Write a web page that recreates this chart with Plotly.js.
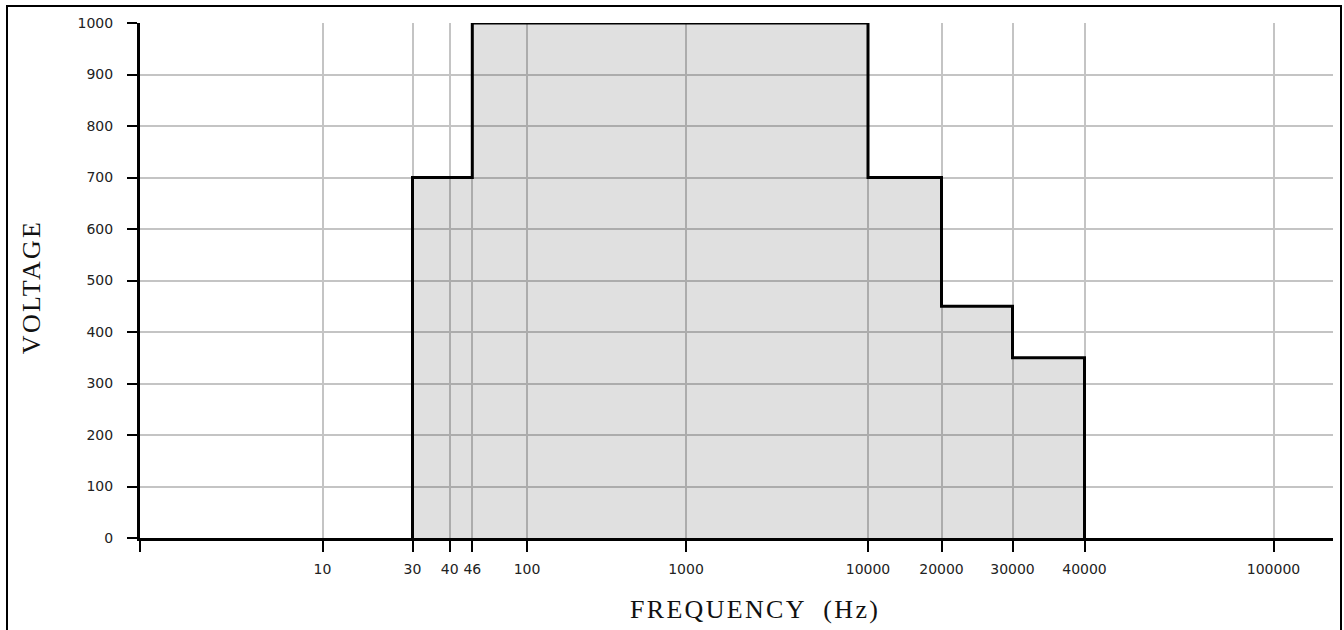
<!DOCTYPE html>
<html>
<head>
<meta charset="utf-8">
<script src="https://cdn.plot.ly/plotly-3.0.1.min.js"></script>
<style>
  html, body { margin: 0; padding: 0; background: #ffffff; }
  #wrap { position: relative; width: 1344px; height: 630px; overflow: hidden; }
  #chart { position: absolute; left: 0; top: 0; width: 1344px; height: 630px; }
  #frame { position: absolute; left: 6px; top: 5px; width: 1336px; height: 700px;
           border: 2px solid #000; box-sizing: border-box; pointer-events: none; }
</style>
</head>
<body>
<div id="wrap">
  <div id="chart"></div>
  <div id="frame"></div>
</div>
<script>
// ---- data ----
const freqHz  = [30, 30, 40, 46, 10000, 20000, 30000, 40000, 40000];
const voltage = [0, 700, 700, 1000, 700, 450, 350, 350, 0];

// x-axis tick frequencies and their labels
const tickFreqs  = [0, 10, 30, 40, 46, 100, 1000, 10000, 20000, 30000, 40000, 100000];
const tickLabels = ['', '10', '30', '40', '46', '100', '1000', '10000', '20000', '30000', '40000', '100000'];

// y-axis ticks
const yTickVals = [0, 100, 200, 300, 400, 500, 600, 700, 800, 900, 1000];

// axis titles
const xTitle = 'FREQUENCY  (Hz)';
const yTitle = 'VOLTAGE';

// ---- the chart's non-uniform frequency scale (anchor positions along the axis) ----
const scaleAnchors = [0, 182.5, 272.5, 309.7, 332.3, 387, 546, 728, 801.5, 872.5, 944.5, 1133.5];
const axisEnd = 1193;

function toAxis(f) {
  for (let i = 0; i < tickFreqs.length - 1; i++) {
    const f0 = tickFreqs[i], f1 = tickFreqs[i + 1];
    if (f >= f0 && f <= f1) {
      return scaleAnchors[i] + (f - f0) / (f1 - f0) * (scaleAnchors[i + 1] - scaleAnchors[i]);
    }
  }
  return scaleAnchors[scaleAnchors.length - 1];
}

const trace = {
  x: freqHz.map(toAxis),
  y: voltage,
  type: 'scatter',
  mode: 'lines',
  line: { shape: 'hv', color: '#000000', width: 3 },
  fill: 'tozeroy',
  fillcolor: 'rgba(0,0,0,0.12)',
  hoverinfo: 'skip',
  showlegend: false
};

const tickFont = { family: 'DejaVu Sans, Verdana, sans-serif', size: 14, color: '#222222' };
const titleFont = { family: 'Liberation Serif, Times New Roman, serif', size: 26, color: '#111111' };

const layout = {
  width: 1344,
  height: 630,
  margin: { l: 140, r: 11, t: 23, b: 92, pad: 0 },
  paper_bgcolor: 'rgba(0,0,0,0)',
  plot_bgcolor: '#ffffff',
  showlegend: false,
  xaxis: {
    type: 'linear',
    range: [0, axisEnd],
    tickmode: 'array',
    tickvals: tickFreqs.map(toAxis),
    ticktext: tickLabels,
    ticks: 'outside',
    ticklen: 11,
    tickwidth: 2,
    tickcolor: '#000000',
    ticklabelstandoff: 5,
    showgrid: true,
    gridcolor: '#c4c4c4',
    gridwidth: 2,
    zeroline: false,
    showline: true,
    linecolor: '#000000',
    linewidth: 3,
    tickfont: tickFont,
    automargin: false,
    fixedrange: true
  },
  yaxis: {
    range: [0, 1000],
    tickmode: 'array',
    tickvals: yTickVals,
    ticktext: yTickVals.map(String),
    ticks: 'outside',
    ticklen: 10,
    tickwidth: 2,
    tickcolor: '#000000',
    ticklabelstandoff: 11,
    showgrid: true,
    gridcolor: '#c4c4c4',
    gridwidth: 2,
    zeroline: false,
    showline: true,
    linecolor: '#000000',
    linewidth: 3,
    tickfont: tickFont,
    automargin: false,
    fixedrange: true
  },
  annotations: [
    {
      text: '<span style="letter-spacing:2.3px">' + xTitle + '</span>',
      xref: 'paper', yref: 'paper',
      x: 0.5155, y: -0.138,
      xanchor: 'center', yanchor: 'middle',
      showarrow: false,
      font: titleFont
    },
    {
      text: '<span style="letter-spacing:2.3px">' + yTitle + '</span>',
      xref: 'paper', yref: 'paper',
      x: -0.0914, y: 0.487,
      xanchor: 'center', yanchor: 'middle',
      textangle: -90,
      showarrow: false,
      font: titleFont
    }
  ]
};

Plotly.newPlot('chart', [trace], layout, { displayModeBar: false, staticPlot: true });
</script>
</body>
</html>
